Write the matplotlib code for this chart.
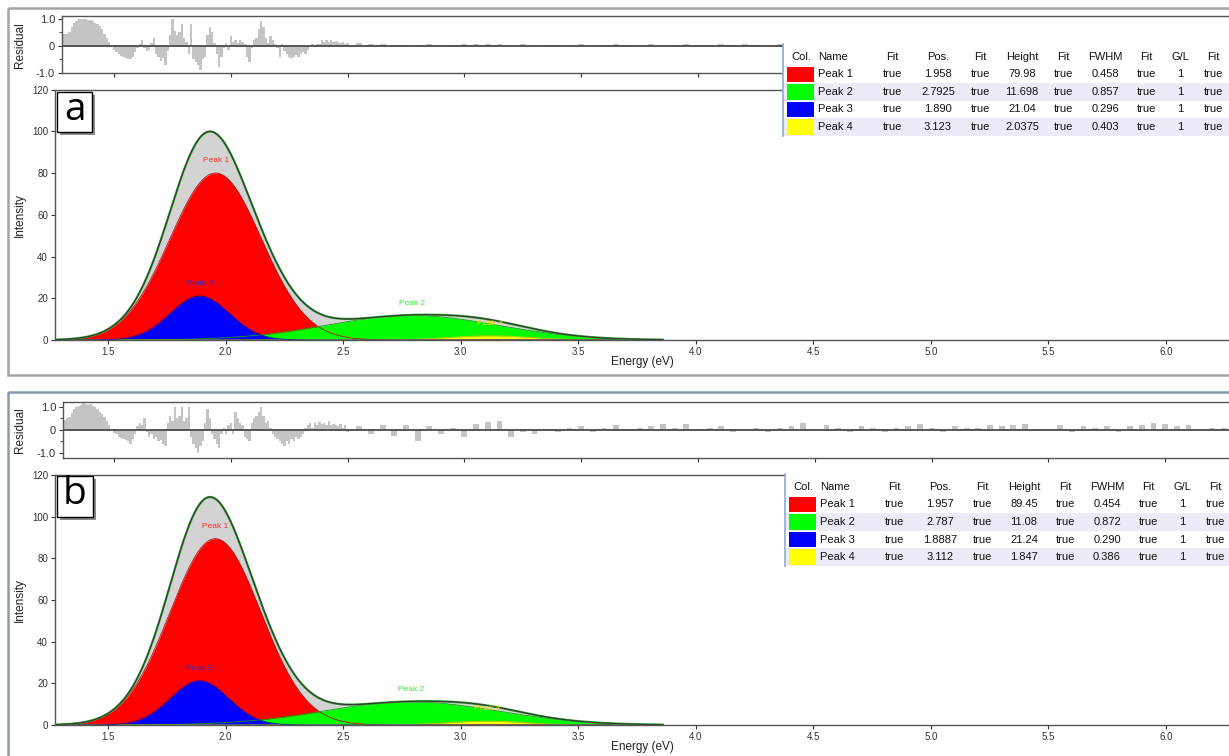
import numpy as np
import matplotlib
matplotlib.use("Agg")
import matplotlib.pyplot as plt
from matplotlib.patches import Rectangle

W, H = 1229, 756

# 峰參數 (照表格讀取)
peak_names = ["Peak 1", "Peak 2", "Peak 3", "Peak 4"]
peak_colors = ["#ff0000", "#00ff00", "#0000ff", "#ffff00"]
line_colors = ["#b01010", "#10a010", "#1010a0", "#c8c800"]
label_colors = ["#ff2a2a", "#3ce63c", "#3030d0", "#e6e600"]
gl_value = "1"

pos_a = ["1.958", "2.7925", "1.890", "3.123"]
height_a = ["79.98", "11.698", "21.04", "2.0375"]
fwhm_a = ["0.458", "0.857", "0.296", "0.403"]

pos_b = ["1.957", "2.787", "1.8887", "3.112"]
height_b = ["89.45", "11.08", "21.24", "1.847"]
fwhm_b = ["0.454", "0.872", "0.290", "0.386"]

fit_end = 3.86

# 殘差 (residual) 讀圖估計
res_fine_start, res_fine_step = 1.28, 0.01
res_tail_start, res_tail_step = 2.55, 0.05

res_a_fine = [0.45, 0.42, 0.45, 0.5, 0.7, 0.85, 0.92, 0.97, 1.0, 0.98,
              1.0, 0.96, 0.95, 0.9, 0.85, 0.8, 0.72, 0.6, 0.45, 0.3,
              0.12, -0.05, -0.15, -0.25, -0.3, -0.38, -0.42, -0.45, -0.5, -0.48,
              -0.4, -0.25, -0.1, 0.05, 0.2, -0.1, -0.2, -0.15, 0.1, 0.3,
              -0.3, -0.4, -0.55, -0.45, -0.7, -0.2, 0.4, 1.0, 0.55, 0.4,
              0.5, 0.8, 0.3, 0.15, -0.3, 0.8, -0.5, -0.6, -0.7, -0.9,
              -0.5, -0.4, 0.4, 0.7, 0.5, 0.1, -0.3, -0.8, -0.4, -0.1,
              0.1, -0.15, 0.35, 0.15, 0.2, 0.1, 0.2, 0.15, 0.05, -0.4,
              -0.6, -0.1, 0.2, 0.3, 0.6, 0.9, 0.7, 0.3, 0.1, 0.35,
              0.2, 0.05, -0.1, -0.4, 0.05, -0.2, -0.3, -0.4, -0.45, -0.4,
              -0.35, -0.4, -0.3, -0.25, -0.3, -0.15, -0.05, 0.05, -0.03, 0.05,
              0.05, 0.2, 0.15, 0.2, 0.15, 0.2, 0.15, 0.18, 0.15, 0.1,
              0.12, 0.08, 0.1]
res_a_tail = [0.1, 0.05, 0.08, -0.05, 0.04, -0.04, 0.06, 0.03, -0.03, 0.05,
              0.07, 0.08, 0.06, -0.03, 0.05, -0.04, 0.04, -0.05, 0.03, 0.05,
              -0.03, 0.04, 0.05, -0.04, 0.03, 0.06, 0.04, -0.03, 0.05, 0.04,
              -0.03, 0.05, 0.03, 0.06, 0.04, -0.03, 0.05, 0.04, 0.03, 0.05,
              0.04, 0.03, 0.05, -0.03, 0.04, 0.05, 0.03, 0.04, -0.02, 0.05,
              0.04, 0.03, 0.05, 0.04, -0.03, 0.04, 0.05, 0.03, 0.04, 0.05,
              0.03, -0.03, 0.04, 0.05, 0.03, 0.04, 0.05, 0.03, 0.04, 0.03,
              0.05, 0.04, 0.03, 0.04, 0.03]

res_b_fine = [0.5, 0.45, 0.5, 0.55, 0.75, 0.9, 1.0, 1.05, 1.1, 1.2,
              1.15, 1.1, 1.12, 1.05, 1.0, 0.9, 0.8, 0.7, 0.55, 0.4,
              0.2, 0.0, -0.15, -0.2, -0.3, -0.35, -0.4, -0.45, -0.5, -0.6,
              -0.4, -0.2, 0.15, 0.3, 0.2, 0.5, -0.1, -0.3, -0.2, -0.4,
              -0.3, -0.5, -0.45, -0.6, -0.7, 0.3, 0.6, 0.4, 1.0, 0.5,
              0.6, 1.0, 0.4, 0.5, 1.0, -0.3, -0.6, -0.8, -1.0, -0.7,
              -0.5, 0.3, 0.9, 0.5, -0.2, -0.4, -0.6, -0.8, -0.2, 0.1,
              -0.2, 0.2, 0.3, -0.2, 0.8, 0.5, 0.3, 0.2, -0.3, -0.4,
              -0.5, 0.3, 0.5, 0.6, 0.8, 1.0, 0.6, 0.3, 0.4, 0.1,
              -0.2, -0.3, -0.4, -0.5, -0.6, -0.7, -0.5, -0.6, -0.4, -0.5,
              -0.3, -0.4, -0.3, -0.2, 0.1, 0.2, 0.3, 0.1, 0.3, 0.2,
              0.35, 0.25, 0.3, 0.2, 0.4, 0.2, 0.25, 0.2, 0.15, 0.25,
              0.1, 0.2, -0.1]
res_b_tail = [0.15, -0.2, 0.2, -0.25, 0.2, -0.5, 0.15, -0.2, 0.1, -0.3,
              0.25, 0.35, 0.4, -0.3, -0.1, -0.2, 0.05, -0.1, 0.1, 0.15,
              -0.1, 0.1, 0.2, -0.05, 0.1, 0.15, 0.25, 0.1, 0.25, -0.05,
              0.1, 0.15, -0.1, 0.05, 0.1, -0.1, 0.1, 0.15, 0.3, -0.05,
              0.2, 0.1, -0.1, 0.15, 0.1, -0.1, 0.1, 0.15, 0.25, 0.1,
              -0.1, 0.15, 0.1, 0.1, 0.2, 0.15, 0.2, 0.25, -0.05, 0.05,
              0.2, -0.1, 0.15, 0.1, 0.15, -0.1, 0.15, 0.2, 0.3, 0.25,
              0.15, 0.2, -0.05, 0.1, 0.1]

x_ticks = [1.5, 2.0, 2.5, 3.0, 3.5, 4.0, 4.5, 5.0, 5.5, 6.0]
y_ticks = [0, 20, 40, 60, 80, 100, 120]

header = ["Col.", "Name", "Fit", "Pos.", "Fit", "Height", "Fit", "FWHM", "Fit", "G/L", "Fit"]
col_off = [18, 35, 109, 155, 197, 239, 280, 322, 363, 397, 430]

plt.rcParams['font.family'] = ['Liberation Sans', 'DejaVu Sans']

fig = plt.figure(figsize=(W / 100, H / 100), dpi=100)

# 像素 -> 圖座標
def add_ax(left, top, right, bottom, z=1):
    return fig.add_axes([left / W, 1 - bottom / H, (right - left) / W, (bottom - top) / H], zorder=z)

def gauss(x, p, h, w):
    return h * np.exp(-4 * np.log(2) * (x - p) ** 2 / w ** 2)

# 整張圖的覆蓋層 (表格, 框, 標籤)
ov = fig.add_axes([0, 0, 1, 1], zorder=10)
ov.set_xlim(0, W)
ov.set_ylim(H, 0)
ov.axis('off')
ov.patch.set_visible(False)

panels = [
    dict(letter="a", frame=(8, 8, 375), edge="#a4a4a4", res=(62, 16.5, 73), res_lim=(-1.01, 1.08),
         main=(55, 89.5, 340), tab=(783, 48, 17.5), pos=pos_a, hgt=height_a, fw=fwhm_a,
         rf=res_a_fine, rt=res_a_tail, box=(57, 92, 92, 132)),
    dict(letter="b", frame=(8, 392, 770), edge="#8a98ae", res=(63, 401.5, 458), res_lim=(-1.23, 1.24),
         main=(55, 475, 725), tab=(785, 478, 17.6), pos=pos_b, hgt=height_b, fw=fwhm_b,
         rf=res_b_fine, rt=res_b_tail, box=(57, 476, 93, 517)),
]

for pn in panels:
    # 外框
    fl, ft, fb = pn["frame"]
    ov.add_patch(Rectangle((fl, ft), W + 20 - fl, fb - ft, fill=False, ec=pn["edge"], lw=1.8, clip_on=False))

    # 殘差圖
    rl, rtop, rb = pn["res"]
    rax = add_ax(rl, rtop, W + 11, rb)
    e0 = 1.5 + (rl - 114) / 233.6
    e1 = 1.5 + (W + 11 - 114) / 233.6
    xf = res_fine_start + res_fine_step * np.arange(len(pn["rf"]))
    xt = res_tail_start + res_tail_step * np.arange(len(pn["rt"]))
    rax.bar(xf, pn["rf"], width=res_fine_step, color="#c4c4c4", lw=0)
    rax.bar(xt, pn["rt"], width=0.025, color="#c4c4c4", lw=0)
    rax.axhline(0, color="#4a4a4a", lw=1.3)
    rax.set_xlim(e0, e1)
    rax.set_ylim(*pn["res_lim"])
    rax.set_xticks(x_ticks)
    rax.set_xticklabels([])
    rax.set_yticks([-1, 0, 1])
    rax.set_yticklabels(["-1.0", "0", "1.0"])
    rax.set_yticks([-0.5, 0.5], minor=True)
    rax.tick_params(labelsize=8, colors="#333333", length=3, width=0.8, pad=2)
    rax.tick_params(which="minor", length=2, width=0.8, colors="#555555")
    rax.spines["right"].set_visible(False)
    for s in ["top", "left", "bottom"]:
        rax.spines[s].set_color("#555555")
        rax.spines[s].set_linewidth(1)

    # 主圖
    ml, mt, mb = pn["main"]
    ax = add_ax(ml, mt, W + 11, mb)
    m0 = 1.5 - (108 - ml) / 235.1
    m1 = 1.5 + (W + 11 - 108) / 235.1
    pos = [float(v) for v in pn["pos"]]
    hgt = [float(v) for v in pn["hgt"]]
    fw = [float(v) for v in pn["fw"]]
    x = np.linspace(m0, fit_end, 1200)
    comps = [gauss(x, pos[i], hgt[i], fw[i]) for i in range(4)]
    total = np.sum(comps, axis=0)
    ax.fill_between(x, 0, total, color="#d3d3d3", lw=0)
    for i in [0, 1, 3, 2]:
        ax.fill_between(x, 0, comps[i], color=peak_colors[i], lw=0)
    for i in [0, 1, 3, 2]:
        ax.plot(x, comps[i], color=line_colors[i], lw=0.6)
    ax.plot(x, total, color="#2f9a2f", lw=1.6)
    ax.plot(x, total, color="#333333", lw=0.7)
    for i in range(4):
        ax.text(pos[i], hgt[i] + 6, peak_names[i], color=label_colors[i], fontsize=6,
                ha="center", va="center")
    ax.set_xlim(m0, m1)
    ax.set_ylim(0, 120)
    ax.set_xticks(x_ticks)
    ax.set_xticklabels(["%.1f" % v for v in x_ticks])
    ax.set_yticks(y_ticks)
    ax.tick_params(labelsize=7, colors="#333333", length=3, width=0.8, pad=2)
    ax.spines["right"].set_visible(False)
    for s in ["top", "left", "bottom"]:
        ax.spines[s].set_color("#555555")
        ax.spines[s].set_linewidth(1)

    # 軸標籤
    ov.text(20, (rtop + rb) / 2, "Residual", rotation=90, fontsize=8.5, ha="center", va="center", color="#222222")
    ov.text(20, (mt + mb) / 2, "Intensity", rotation=90, fontsize=8.5, ha="center", va="center", color="#222222")
    ov.text(642, mb + 22, "Energy (eV)", fontsize=8.5, ha="center", va="center", color="#222222")

    # a / b 標籤框
    bl, bt, br, bb = pn["box"]
    ov.add_patch(Rectangle((bl + 3, bt + 3), br - bl, bb - bt, color="#8c8c8c", lw=0))
    ov.add_patch(Rectangle((bl, bt), br - bl, bb - bt, fc="white", ec="black", lw=1))
    ov.text((bl + br) / 2, (bt + bb) / 2 - 2, pn["letter"], fontsize=28, ha="center", va="center",
            family=["Open Sans", "DejaVu Sans"])

    # 參數表格
    tl, tt, rh = pn["tab"]
    ov.add_patch(Rectangle((tl, tt - 4), W + 5 - tl, 5 * rh + 4, fc="white", ec="none"))
    for r in [2, 4]:
        ov.add_patch(Rectangle((tl + 1, tt + r * rh), W + 5 - tl, rh, fc="#ececf7", ec="none"))
    ov.plot([tl, tl], [tt - 4, tt + 5 * rh], color="#8eaad2", lw=1.2)
    yc = tt + rh / 2
    for j, hd in enumerate(header):
        ha = "left" if j == 1 else "center"
        ov.text(tl + col_off[j], yc, hd, fontsize=8, ha=ha, va="center", color="#111111")
    for i in range(4):
        yc = tt + (i + 1) * rh + rh / 2
        ov.add_patch(Rectangle((tl + 4, tt + (i + 1) * rh + 1), 27, rh - 2, fc=peak_colors[i], ec="none"))
        row = [peak_names[i], "true", pn["pos"][i], "true", pn["hgt"][i], "true", pn["fw"][i], "true", gl_value, "true"]
        for j, val in enumerate(row, start=1):
            ha = "left" if j == 1 else "center"
            ov.text(tl + col_off[j], yc, val, fontsize=8, ha=ha, va="center", color="#111111")

fig.savefig("out.png", dpi=100)
